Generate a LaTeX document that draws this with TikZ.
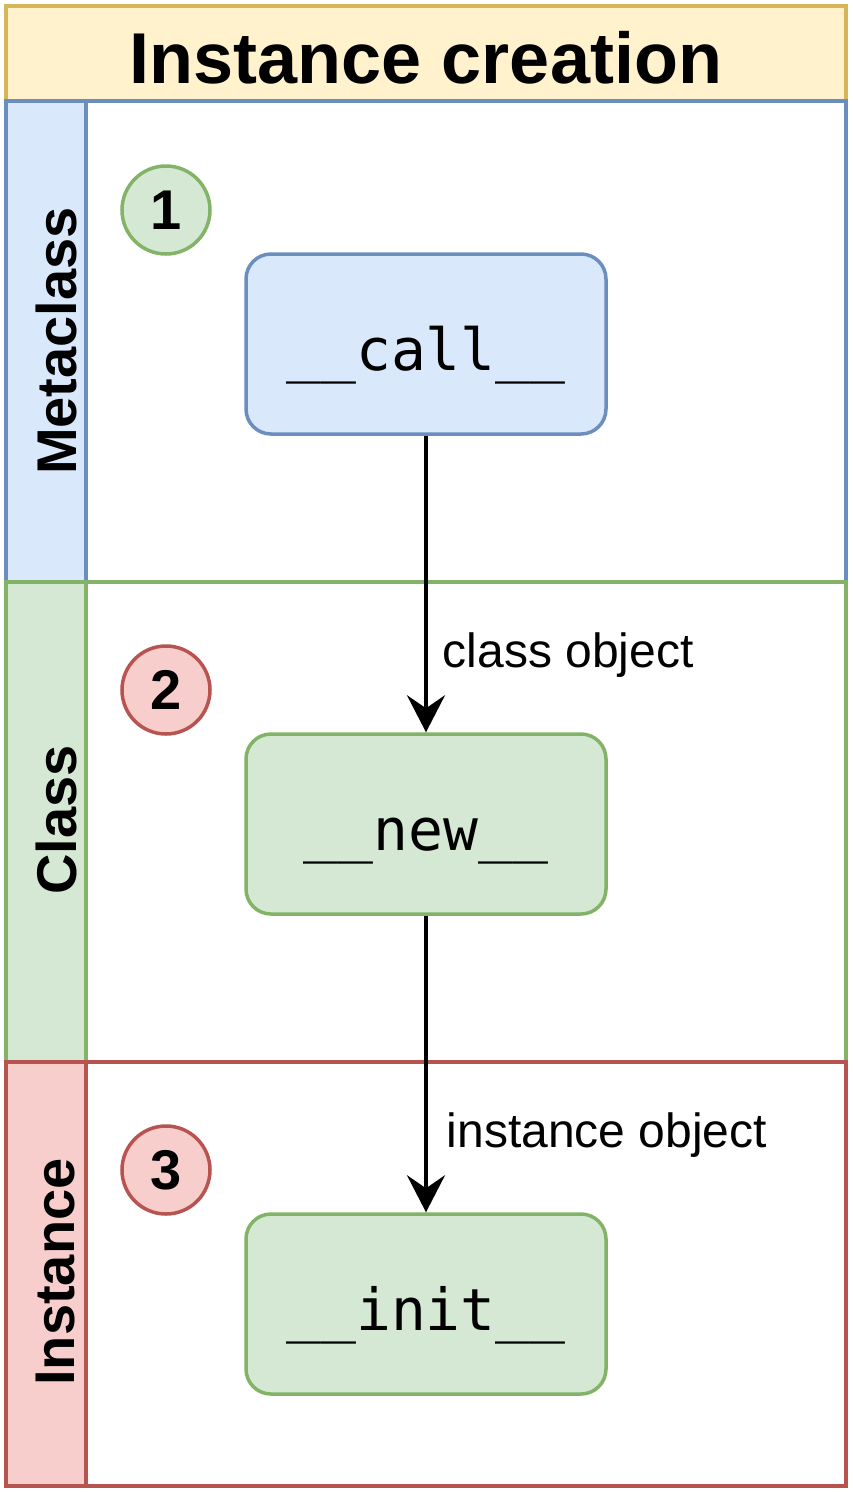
\documentclass[tikz,border=0pt]{standalone}
\usepackage{fontspec}
\setmainfont{Liberation Sans}
\setmonofont{DejaVu Sans Mono}
\usetikzlibrary{arrows.meta,positioning}
\definecolor{ylwF}{HTML}{FFF2CC}
\definecolor{ylwD}{HTML}{D6B656}
\definecolor{bluF}{HTML}{DAE8FC}
\definecolor{bluD}{HTML}{6C8EBF}
\definecolor{grnF}{HTML}{D5E8D4}
\definecolor{grnD}{HTML}{82B366}
\definecolor{redF}{HTML}{F8CECC}
\definecolor{redD}{HTML}{B85450}
\tikzset{
  flowarr/.style={-{Stealth[length=37pt, width=38pt, inset=13pt]}, line width=3.5pt},
  lanebox/.style={line width=3.5pt},
  lanelab/.style={rotate=90, font=\fontsize{56}{60}\selectfont\bfseries, inner sep=0pt},
  stepnum/.style={circle, draw, line width=3.5pt, minimum size=88pt, inner sep=0pt,
    font=\fontsize{56}{60}\selectfont\bfseries},
  dunder/.style={draw, line width=3.5pt, rounded corners=25pt, minimum width=360pt,
    minimum height=180pt, inner sep=0pt, text height=52pt, text depth=0pt,
    font=\fontsize{58}{62}\selectfont\ttfamily},
  elab/.style={anchor=west, inner sep=0pt, xshift=15pt, yshift=-4pt,
    font=\fontsize{48}{52}\selectfont},
}

\begin{document}
\begin{tikzpicture}[x=1pt,y=-1pt]
\useasboundingbox (0,0) rectangle (852,1492);

% ============ title band ====================================================
\draw[lanebox, ylwD, fill=ylwF] (6,6) rectangle (846,101);
\node[font=\fontsize{72}{76}\selectfont\bfseries] (title) at (426,58) {Instance creation};

% ============ swim lanes ====================================================
\draw[lanebox, bluD] (86,101) rectangle (846,582);
\draw[lanebox, bluD, fill=bluF] (6,101) rectangle (86,582);
\node[lanelab] (lnMeta) at (56,341) {Metaclass};

\draw[lanebox, grnD] (86,582) rectangle (846,1062);
\draw[lanebox, grnD, fill=grnF] (6,582) rectangle (86,1062);
\node[lanelab] (lnClass) at (56,820) {Class};

\draw[lanebox, redD] (86,1062) rectangle (846,1486);
\draw[lanebox, redD, fill=redF] (6,1062) rectangle (86,1486);
\node[lanelab] (lnInst) at (56,1272) {Instance};

% ============ steps =========================================================
\node[stepnum, grnD, fill=grnF, text=black] (n1) at (166,210) {1};
\node[stepnum, redD, fill=redF, text=black] (n2) at (166,690) {2};
\node[stepnum, redD, fill=redF, text=black] (n3) at (166,1170) {3};

\node[dunder, bluD, fill=bluF, text=black] (call) at (426,344) {\_\_call\_\_};
\node[dunder, grnD, fill=grnF, text=black] (new) at (426,824) {\_\_new\_\_};
\node[dunder, grnD, fill=grnF, text=black] (init) at (426,1304) {\_\_init\_\_};

% ============ connectors ====================================================
\draw[flowarr] (call) -- node[elab, pos=0.727] {class object} (new);
\draw[flowarr] (new) -- node[elab, pos=0.727, xshift=4pt] {instance object} (init);

\end{tikzpicture}
\end{document}
